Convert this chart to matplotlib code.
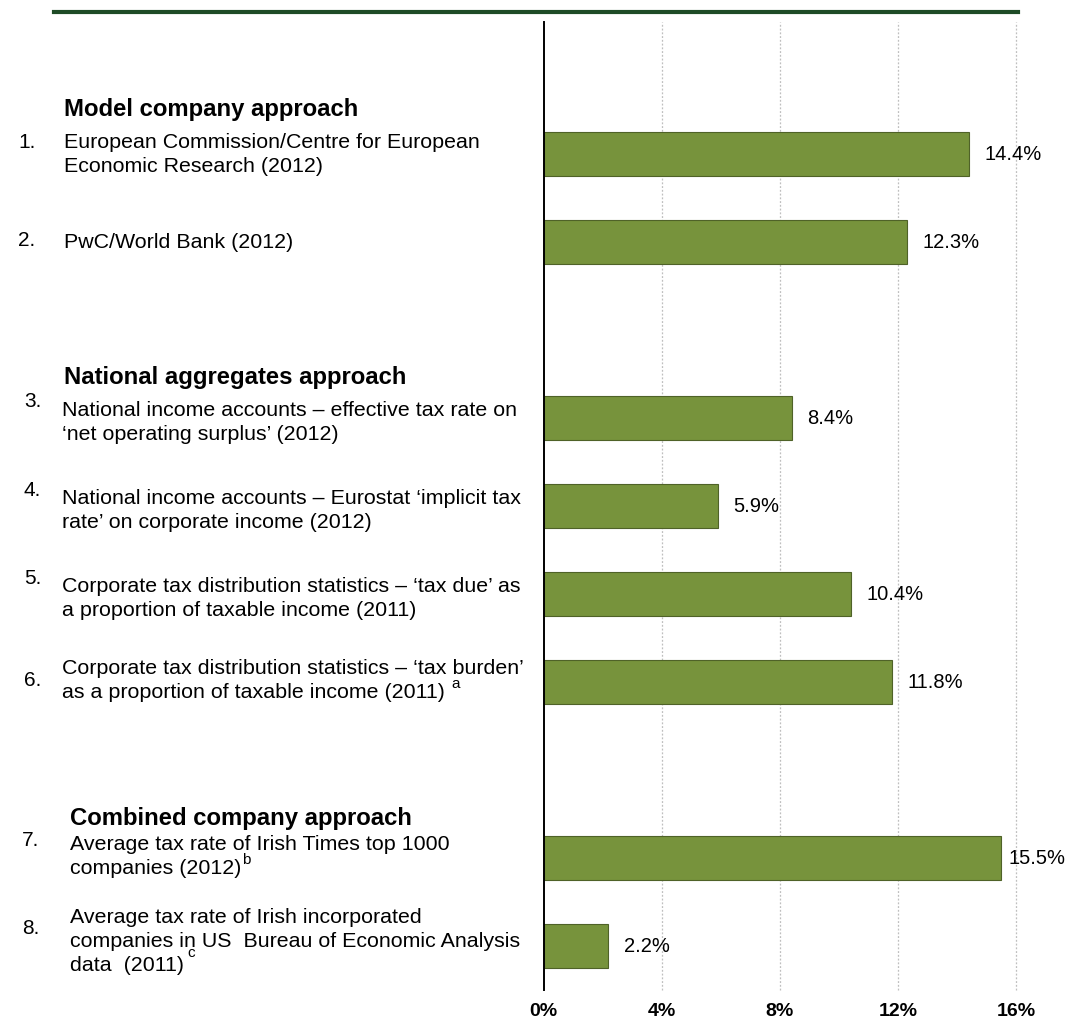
import matplotlib
matplotlib.use("Agg")
import matplotlib.pyplot as plt
from matplotlib.lines import Line2D

plt.rcParams["font.family"] = ["Liberation Sans", "DejaVu Sans"]

# effective corporate tax rate estimates for Ireland, %
groups = ["Model company approach", "National aggregates approach",
          "Combined company approach"]
numbers = ["1.", "2.", "3.", "4.", "5.", "6.", "7.", "8."]
items = [
    "European Commission/Centre for European\nEconomic Research (2012)",
    "PwC/World Bank (2012)",
    "National income accounts \u2013 effective tax rate on\n\u2018net operating surplus\u2019 (2012)",
    "National income accounts \u2013 Eurostat \u2018implicit tax\nrate\u2019 on corporate income (2012)",
    "Corporate tax distribution statistics \u2013 \u2018tax due\u2019 as\na proportion of taxable income (2011)",
    "Corporate tax distribution statistics \u2013 \u2018tax burden\u2019\nas a proportion of taxable income (2011) ",
    "Average tax rate of Irish Times top 1000\ncompanies (2012)",
    "Average tax rate of Irish incorporated\ncompanies in US  Bureau of Economic Analysis\ndata  (2011)",
]
notes = ["", "", "", "", "", "a", "b", "c"]
values = [14.4, 12.3, 8.4, 5.9, 10.4, 11.8, 15.5, 2.2]
xticks = [0, 4, 8, 12, 16]

# category slots on the bar axis (blank slots hold the group headings)
slots = [1, 2, 4, 5, 6, 7, 9, 10]

W, H = 1071, 1021
fig = plt.figure(figsize=(W / 100, H / 100), dpi=100)


def fx(px):
    return px / W


def fy(py):
    return 1 - py / H


# dark green rule across the top
fig.add_artist(Line2D([fx(54), fx(1018)], [fy(12), fy(12)],
                      color="#1E4B26", linewidth=3.0))

ax = fig.add_axes([fx(543.5), fy(990), fx(1016) - fx(543.5), fy(22) - fy(990)])
ax.barh(slots, values, height=0.5, color="#77933C", edgecolor="#4F6228",
        linewidth=0.8, zorder=3)
ax.set_xlim(0, 16)
ax.set_ylim(10.5, -0.5)
ax.set_xticks(xticks)
ax.set_xticklabels([f"{t}%" for t in xticks], fontsize=14, fontweight="bold")
ax.set_yticks([])
ax.tick_params(axis="x", length=0, pad=9)
for s in ["top", "right", "bottom"]:
    ax.spines[s].set_visible(False)
ax.spines["left"].set_linewidth(1.4)
ax.spines["left"].set_zorder(4)
for t in xticks[1:]:
    ax.axvline(t, color="#BFBFBF", linewidth=0.9, linestyle=(0, (1.5, 1.5)),
               zorder=1, clip_on=False)

# value labels; the longest bar gets a tighter gap so its label fits
for v, s in zip(values, slots):
    gap = 5 if v > 15 else 11.5
    ax.annotate(f"{v:.1f}%", (v, s), xytext=(gap, 0), textcoords="offset points",
                va="center", ha="left", fontsize=14.5)

# left-hand labels
head_pos = [(64, 109), (64, 377), (70, 818)]
for g, (x, y) in zip(groups, head_pos):
    fig.text(fx(x), fy(y), g, fontsize=17.2, fontweight="bold", va="center")

num_pos = [(18, 142), (18, 240), (24, 401), (24, 490), (24, 578), (24, 680),
           (22, 840), (22, 928)]
line_pos = [(64, 142), (64, 242), (62, 410), (62, 498), (62, 586), (62, 668),
            (70, 844), (70, 917)]
step = 24
body = 15.4

fig.canvas.draw()
renderer = fig.canvas.get_renderer()

for num, item, note, (nx, ny), (lx, ly) in zip(numbers, items, notes, num_pos, line_pos):
    fig.text(fx(nx), fy(ny), num, fontsize=15, va="center")
    lines = item.split("\n")
    drawn = []
    for i, ln in enumerate(lines):
        drawn.append(fig.text(fx(lx), fy(ly + i * step), ln, fontsize=body, va="center"))
    if note in ("a", "b"):
        bb = drawn[-1].get_window_extent(renderer)
        fig.text(bb.x1 / W + fx(1), fy(ly + (len(lines) - 1) * step - 8), note,
                 fontsize=11, va="center")
    elif note == "c":
        tmp = fig.text(0, 0, "companies in", fontsize=body)
        w = tmp.get_window_extent(renderer).width
        tmp.remove()
        fig.text(fx(lx + w - 8), fy(ly + step + 12), note, fontsize=11, va="center")

fig.savefig("out.png", dpi=100)
